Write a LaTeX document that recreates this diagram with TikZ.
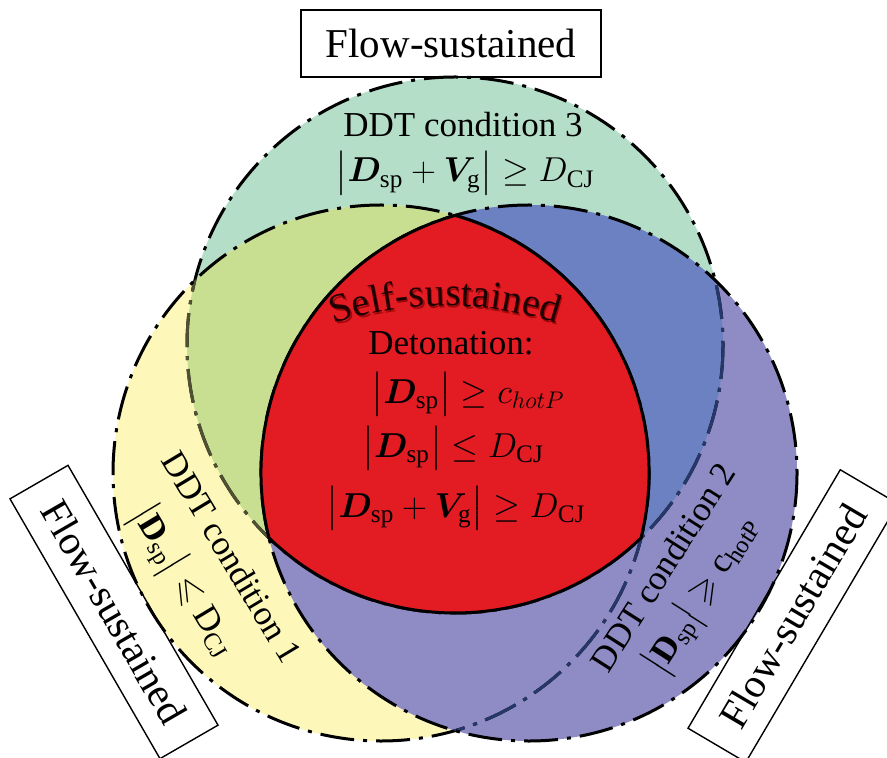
\documentclass[tikz,border=0pt]{standalone}
\usepackage{fontspec}
\setmainfont{Liberation Serif}
\usepackage{amsmath,amssymb,bm}
\usetikzlibrary{decorations.text}

\definecolor{greenT}{RGB}{181,222,201}
\definecolor{yellowL}{RGB}{253,248,186}
\definecolor{purpleR}{RGB}{143,140,197}
\definecolor{oliveTL}{RGB}{200,223,146}
\definecolor{blueTR}{RGB}{108,129,193}
\definecolor{redC}{RGB}{227,27,35}
\definecolor{dimolive}{RGB}{80,80,50}
\definecolor{dimnavy}{RGB}{38,55,105}
\definecolor{selfred}{RGB}{30,0,0}
\definecolor{selfshadow}{RGB}{130,0,0}

\newcommand{\Dsp}{\bm{D}_{\mathrm{sp}}}
\newcommand{\DCJ}{D_{\mathrm{CJ}}}
\newcommand{\Vg}{\bm{V}_{\mathrm{g}}}

\tikzset{
  venn/.style={line width=1.5pt, dash pattern=on 17pt off 4.5pt on 2pt off 4.5pt},
  flowbox/.style={draw, line width=0.7pt, minimum width=150pt, minimum height=33.5pt,
    inner sep=0pt, font=\fontsize{20.5}{24}\selectfont},
  condtext/.style={font=\fontsize{17.5}{20}\selectfont},
  mathtext/.style={font=\fontsize{18}{22}\selectfont},
}

\begin{document}
\begin{tikzpicture}[x=0.5pt, y=-0.5pt]
    \useasboundingbox (0,0) rectangle (887,758);
    \fill[white] (0,0) rectangle (887,758);
    \def\vennr{268}

    % Centres of the three circles
    \coordinate (T) at (455,345);
    \coordinate (L) at (381,473);
    \coordinate (R) at (529,473);

    % Fill the regions
    \fill[greenT] (T) circle[radius=\vennr];
    \fill[yellowL] (L) circle[radius=\vennr];
    \fill[purpleR] (R) circle[radius=\vennr];
    \begin{scope}
        \clip (T) circle[radius=\vennr];
        \fill[oliveTL] (L) circle[radius=\vennr];
        \fill[blueTR] (R) circle[radius=\vennr];
    \end{scope}

    % Outlines (hidden parts dimmed)
    \draw[venn] (T) circle[radius=\vennr];
    \begin{scope}
        \clip (L) circle[radius=\vennr];
        \draw[venn, dimolive] (T) circle[radius=\vennr];
    \end{scope}
    \begin{scope}
        \clip (R) circle[radius=\vennr];
        \draw[venn, dimnavy] (T) circle[radius=\vennr];
    \end{scope}
    \draw[venn] (L) circle[radius=\vennr];
    \begin{scope}
        \clip (R) circle[radius=\vennr];
        \draw[venn, dimnavy] (L) circle[radius=\vennr];
    \end{scope}
    \draw[venn] (R) circle[radius=\vennr];

    % Self-sustained region
    \coordinate (top) at (455,215.4);
    \filldraw[fill=redC, draw=black, line width=1.5pt] (top)
        arc[start angle=253.97, end angle=165.98, radius=\vennr]
        arc[start angle=133.96, end angle=46.04, radius=\vennr]
        arc[start angle=14.02, end angle=-73.97, radius=\vennr] -- cycle;

    % Labels in the red region
    \path[decorate, decoration={text along path, text align=center,
        text={|\fontsize{20}{22}\selectfont\color{selfshadow!70!redC}|Self-sustained}}]
        (331.5,327) arc[start angle=-108.8, end angle=-71.2, radius=357];
    \path[decorate, decoration={text along path, text align=center,
        text={|\fontsize{20}{22}\selectfont\color{selfred}|Self-sustained}}]
        (330,325) arc[start angle=-108.8, end angle=-71.2, radius=357];
    \node[condtext, anchor=base] (deton) at (451,355) {Detonation:};
    \node[mathtext, anchor=base] (eqA) at (468,403) {$\bigl|\Dsp\bigr|\geq c_{hotP}$};
    \node[mathtext, anchor=base] (eqB) at (453,457) {$\bigl|\Dsp\bigr|\leq\DCJ$};
    \node[mathtext, anchor=base] (eqC) at (456,517) {$\bigl|\Dsp+\Vg\bigr|\geq\DCJ$};

    % DDT conditions
    \node[condtext, anchor=base] (cond3) at (463,137) {DDT condition 3};
    \node[mathtext, anchor=base] (cond3eq) at (465,182) {$\bigl|\Dsp+\Vg\bigr|\geq\DCJ$};
    \node[condtext, rotate=-59] (cond1) at (232,557) {DDT condition 1};
    \node[condtext, rotate=-59] (cond1eq) at (183,582)
        {$\bigl|\mathbf{D}_{\mathrm{sp}}\bigr|\leqslant\mathrm{D}_{\mathrm{CJ}}$};
    \node[condtext, rotate=57.5] (cond2) at (663,567) {DDT condition 2};
    \node[condtext, rotate=57.5] (cond2eq) at (703,595)
        {$\bigl|\mathbf{D}_{\mathrm{sp}}\bigr|\geqslant\mathrm{c}_{\mathrm{hotP}}$};

    % Flow-sustained boxes
    \node[flowbox] (flowtop) at (451,43.5) {Flow-sustained};
    \node[flowbox, rotate=-60] (flowleft) at (114,612) {Flow-sustained};
    \node[flowbox, rotate=59.5] (flowright) at (793,616) {Flow-sustained};
\end{tikzpicture}
\end{document}
